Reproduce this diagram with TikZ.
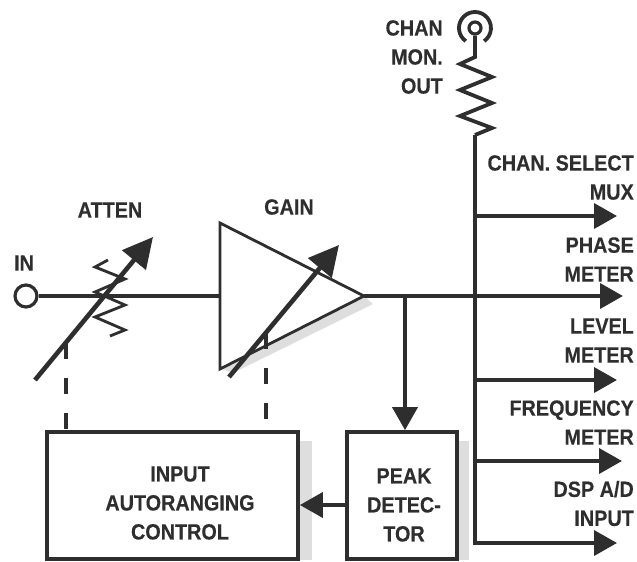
\documentclass[tikz,border=0pt]{standalone}
\usepackage{fontspec}
\setmainfont[FakeStretch=0.9,BoldFeatures={FakeBold=0.3}]{Liberation Sans}
\usetikzlibrary{arrows.meta}
\definecolor{ink}{HTML}{2E2E2E}
\definecolor{shadowgrey}{HTML}{DEDEDE}
\tikzset{
  wire/.style={draw=ink,line width=3.8pt},
  thinwire/.style={draw=ink,line width=2.8pt},
  outarrow/.style={wire,-{Triangle[length=23pt,width=25pt]}},
  ctl/.style={draw=ink,line width=4.6pt,-{Triangle[length=30pt,width=30pt]}},
  dashline/.style={draw=ink,line width=3.8pt,dash pattern=on 16pt off 19pt},
  blockbox/.style={draw=ink,line width=3.8pt,fill=white,minimum height=127pt,inner sep=0pt,align=center},
  lbl/.style={text=ink,inner sep=0pt,font=\fontsize{22}{29}\bfseries\selectfont},
  lblr/.style={lbl,anchor=east,align=right},
  lblc/.style={lbl,align=center}
}
\begin{document}
\begin{tikzpicture}[x=1pt,y=-1pt]
\useasboundingbox (0,0) rectangle (637,562);
% shadows
\fill[shadowgrey] (298,441) rectangle (312,560);
\fill[shadowgrey] (457,441) rectangle (469,560);
\fill[shadowgrey] (364,296) -- (373,304) -- (233,373) -- (222,369) -- cycle;
% named points
\node[circle,draw=ink,line width=3.2pt,fill=white,minimum size=22pt,inner sep=0pt] (in) at (26,296) {};
\coordinate (triA) at (220,223);
\coordinate (triB) at (220,369);
\coordinate (triC) at (364,296);
\coordinate (triIn) at (220,296);
\coordinate (tap) at (405,296);
\coordinate (outA) at (617,216);
\coordinate (outB) at (623,296);
\coordinate (outC) at (617,380);
\coordinate (outD) at (622,461);
\coordinate (outE) at (617,543);
\coordinate (busTop) at (475,135);
\coordinate (busBot) at (475,543);
\coordinate (jA) at (475,216);
\coordinate (jC) at (475,380);
\coordinate (jD) at (475,461);
\coordinate (attenA) at (35,380);
\coordinate (attenB) at (153,237);
\coordinate (gainA) at (229,377);
\coordinate (gainB) at (339,245);
\coordinate (attenCtl) at (66,343);
\coordinate (gainCtl) at (266,333);
\coordinate (gainCtlEnd) at (266,421);
% blocks
\node[blockbox,minimum width=251pt] (ctrl) at (172.5,495.5) {};
\node[blockbox,minimum width=110pt] (peak) at (402,495.5) {};
\node[lblc] (ctrltext) at (180,503) {INPUT\\AUTORANGING\\CONTROL};
\node[lblc] (peaktext) at (404,505) {PEAK\\DETEC-\\TOR};
% signal path
\draw[wire] (in) -- (triIn);
\draw[thinwire,line join=miter] (triA) -- (triC) -- (triB) -- cycle;
% attenuator resistor
\draw[thinwire,line join=miter] (108,260) -- (95,267) -- (125,279) -- (95,292) -- (125,305) -- (95,317) -- (125,330) -- (110,336);
\draw[ctl] (attenA) -- (attenB);
\draw[ctl] (gainA) -- (gainB);
\draw[dashline] (attenCtl) -- (attenCtl |- ctrl.north);
\draw[dashline] (gainCtl) -- (gainCtlEnd);
% output bus
\draw[outarrow] (triC) -- (outB);
\draw[outarrow] (jA) -- (outA);
\draw[outarrow] (jC) -- (outC);
\draw[outarrow] (jD) -- (outD);
\draw[wire,line join=miter,-{Triangle[length=23pt,width=25pt]}] (busTop) -- (busBot) -- (outE);
\draw[outarrow] (tap) -- (tap |- peak.north);
\draw[outarrow] (peak.west |- 0,505) -- (ctrl.east |- 0,505);
% monitor output
\node[circle,draw=ink,line width=3.2pt,minimum size=12pt,inner sep=0pt] (jack) at (475,28) {};
\draw[draw=ink,line width=3.8pt] (jack.center) ++(-9.2,13.1) arc[start angle=235,end angle=-55,radius=16pt];
\draw[wire,line join=miter] (jack) -- (475,57) -- (460,64) -- (492,77) -- (460,90) -- (492,103) -- (460,116) -- (492,128) -- (475,135) -- (busTop);
% labels
\node[lblr] (lmon) at (443,57) {CHAN\\MON.\\OUT};
\node[lbl] (latten) at (110,210) {ATTEN};
\node[lbl] (lgain) at (289,207) {GAIN};
\node[lbl] (lin) at (24,263) {IN};
\node[lblr] (l1) at (634,177.5) {CHAN. SELECT\\MUX};
\node[lblr] (l2) at (634,259.5) {PHASE\\METER};
\node[lblr] (l3) at (634,340.5) {LEVEL\\METER};
\node[lblr] (l4) at (634,422.5) {FREQUENCY\\METER};
\node[lblr] (l5) at (634,503.5) {DSP A/D\\INPUT};
\end{tikzpicture}
\end{document}
